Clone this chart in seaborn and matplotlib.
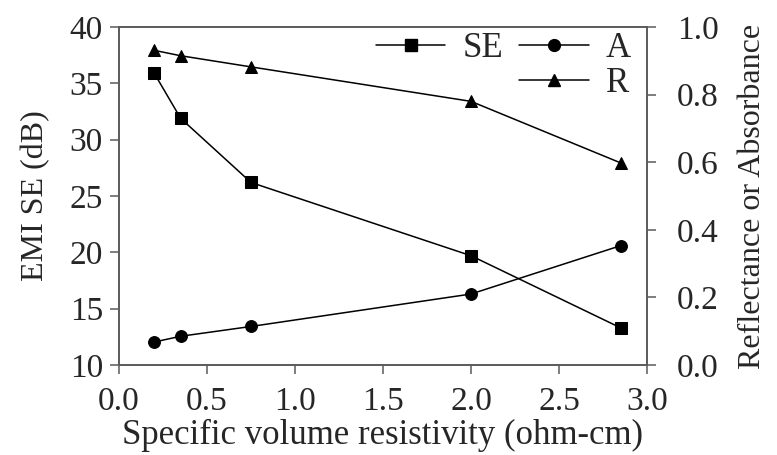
import matplotlib
matplotlib.use("Agg")
import matplotlib.pyplot as plt
import seaborn as sns
import pandas as pd
from matplotlib.lines import Line2D

resistivity = [0.2, 0.35, 0.75, 2.0, 2.85]
se_db = [35.9, 31.9, 26.2, 19.7, 13.3]
absorbance = [0.068, 0.085, 0.114, 0.21, 0.353]
reflectance = [0.931, 0.915, 0.882, 0.78, 0.598]

x_ticks = [0.0, 0.5, 1.0, 1.5, 2.0, 2.5, 3.0]
left_ticks = [10, 15, 20, 25, 30, 35, 40]
right_ticks = [0.0, 0.2, 0.4, 0.6, 0.8, 1.0]

sns.set_theme(style="ticks")
plt.rcParams['font.family'] = ['Liberation Serif', 'DejaVu Serif']

fs_tick = 24
fs_xlab = 25
fs_ylab = 23
fs_leg = 25

W, H = 777, 455
L, R, T, B = 119, 647, 27, 365
fig = plt.figure(figsize=(W/100, H/100), dpi=100)
ax = fig.add_axes([L/W, 1 - B/H, (R-L)/W, (B-T)/H])
ax2 = ax.twinx()

df = pd.DataFrame({"x": resistivity, "SE": se_db, "A": absorbance, "R": reflectance})
lw = 1.1
ms = 8.5
sns.lineplot(data=df, x="x", y="SE", ax=ax, color="black", marker="s", markersize=ms,
             linewidth=lw, markeredgecolor="black")
sns.lineplot(data=df, x="x", y="A", ax=ax2, color="black", marker="o", markersize=ms,
             linewidth=lw, markeredgecolor="black")
sns.lineplot(data=df, x="x", y="R", ax=ax2, color="black", marker="^", markersize=ms,
             linewidth=lw, markeredgecolor="black")

ax.set_xlim(0, 3.0)
ax.set_ylim(10, 40)
ax2.set_ylim(0, 1.0)
ax.set_xticks(x_ticks)
ax.set_xticklabels([f"{v:.1f}" for v in x_ticks])
ax.set_yticks(left_ticks)
ax2.set_yticks(right_ticks)
ax2.set_yticklabels([f"{v:.1f}" for v in right_ticks])

ax.set_xlabel("Specific volume resistivity (ohm-cm)", fontsize=fs_xlab, labelpad=1)
ax.set_ylabel("EMI SE (dB)", fontsize=fs_ylab, labelpad=14)
ax2.set_ylabel("Reflectance or Absorbance", fontsize=fs_ylab, labelpad=14)

spine_col = "#5a5a5a"
for a in (ax, ax2):
    a.tick_params(labelsize=fs_tick, direction="out", length=6.5, width=1.1, color=spine_col)
    for s in a.spines.values():
        s.set_visible(True)
        s.set_color(spine_col)
        s.set_linewidth(1.2)
ax.tick_params(axis="x", pad=9)
ax.tick_params(axis="y", pad=5)
ax2.tick_params(axis="y", pad=15)

h_se = Line2D([], [], color="black", marker="s", markersize=ms, linewidth=lw)
h_a = Line2D([], [], color="black", marker="o", markersize=ms, linewidth=lw)
h_r = Line2D([], [], color="black", marker="^", markersize=ms, linewidth=lw)
h_blank = Line2D([], [], color="none", marker=None, linewidth=0)
leg = ax2.legend([h_se, h_blank, h_a, h_r], ["SE", "", "A", "R"], ncol=2, loc="upper right",
                 bbox_to_anchor=(0.97, 0.985), frameon=False, fontsize=fs_leg,
                 handlelength=2.0, handletextpad=0.5, columnspacing=0.45,
                 labelspacing=0.05, borderaxespad=0, borderpad=0)

fig.savefig("out.png", dpi=100)
